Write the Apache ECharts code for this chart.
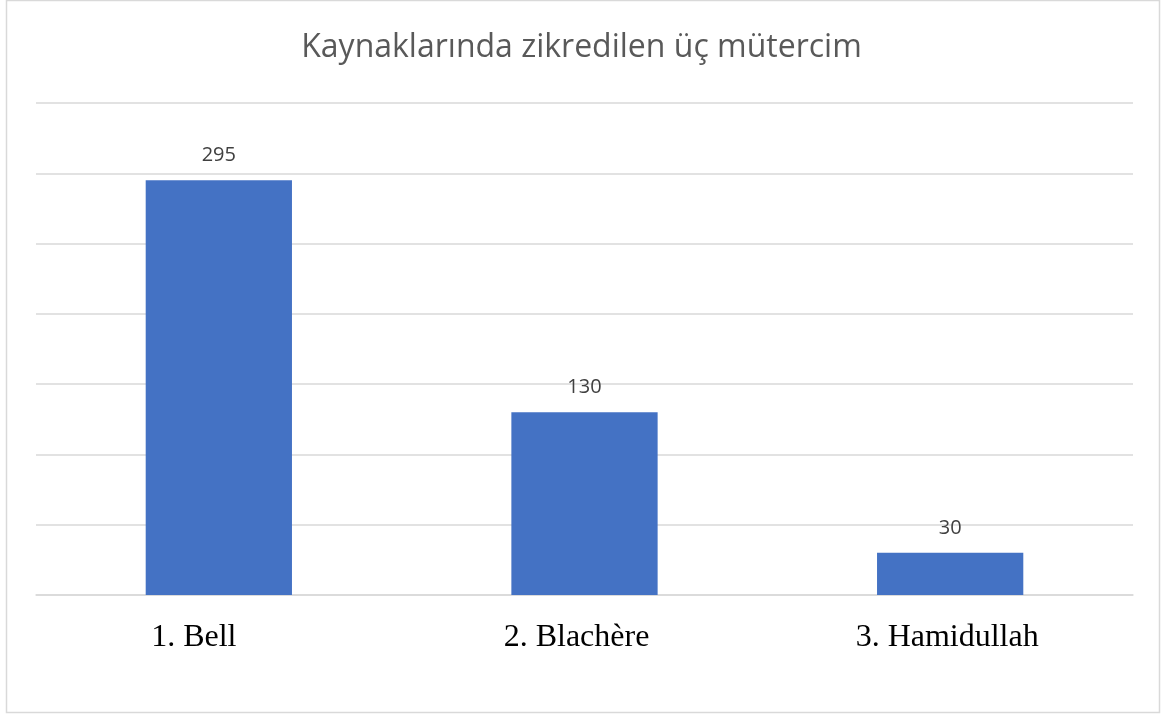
<!DOCTYPE html>
<html>
<head>
<meta charset="utf-8">
<script src="https://cdn.jsdelivr.net/npm/echarts@6/dist/echarts.min.js"></script>
<style>
html,body{margin:0;padding:0;background:#fff;}
#c{width:1163px;height:716px;}
</style>
</head>
<body>
<div id="c"></div>
<script>
const titleText = "Kaynaklarında zikredilen üç mütercim";
const categories = ["1. Bell", "2. Blachère", "3. Hamidullah"];
const values = [295, 130, 30];
const yMax = 350;
const yInterval = 50;

const labelFont = {fontFamily: 'Liberation Serif', fontSize: 32, color: '#000000'};
const chart = echarts.init(document.getElementById('c'));
chart.setOption({
  backgroundColor: '#ffffff',
  animation: false,
  graphic: [{
    type: 'rect',
    shape: {x: 6.5, y: 0.5, width: 1153, height: 712},
    style: {fill: 'none', stroke: '#d9d9d9', lineWidth: 1.5},
    z: -1
  }],
  title: {
    text: titleText,
    left: 'center',
    top: 27,
    textStyle: {fontFamily: 'Open Sans', fontSize: 32, fontWeight: 'normal', color: '#595959'}
  },
  grid: {left: 36, right: 30, top: 103, bottom: 121, containLabel: false},
  xAxis: {
    type: 'category',
    data: categories,
    axisLine: {lineStyle: {color: '#d9d9d9', width: 1.5}},
    axisTick: {show: false},
    axisLabel: {
      margin: 27,
      formatter: function (v, i) { return '{l' + i + '|' + v + '}'; },
      rich: {
        l0: Object.assign({padding: [0, 50, 0, 0]}, labelFont),
        l1: Object.assign({padding: [0, 16, 0, 0]}, labelFont),
        l2: Object.assign({padding: [0, 6, 0, 0]}, labelFont)
      }
    }
  },
  yAxis: {
    type: 'value',
    min: 0,
    max: yMax,
    interval: yInterval,
    axisLine: {show: false},
    axisTick: {show: false},
    axisLabel: {show: false},
    splitLine: {lineStyle: {color: '#d9d9d9', width: 1.5}}
  },
  series: [{
    type: 'bar',
    data: values,
    barWidth: '40%',
    itemStyle: {color: '#4472C4'},
    label: {
      show: true,
      position: 'top',
      distance: 15,
      fontFamily: 'Open Sans',
      fontSize: 20,
      color: '#404040'
    }
  }]
});
</script>
</body>
</html>
